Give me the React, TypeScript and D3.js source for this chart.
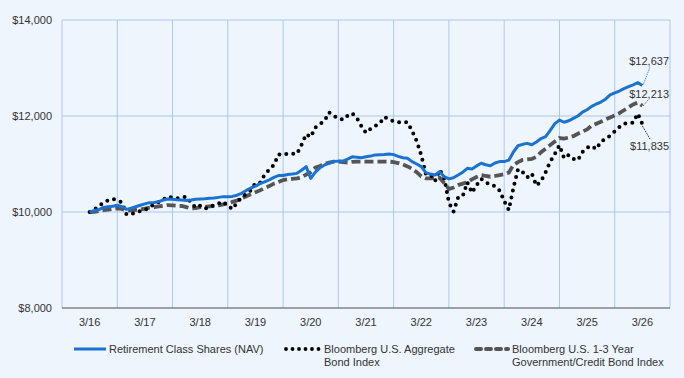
import React from "react";
import * as d3 from "d3";

const tickLabels = ["3/16", "3/17", "3/18", "3/19", "3/20", "3/21", "3/22", "3/23", "3/24", "3/25", "3/26"];
const yTicks = [8000, 10000, 12000, 14000];

const navSeries = [
  10000, 10030, 10050, 10095, 10110, 10120, 10140, 10110, 10055, 10080, 10110, 10140,
  10170, 10195, 10200, 10215, 10250, 10270, 10265, 10255, 10250, 10240, 10250, 10265,
  10270, 10275, 10285, 10290, 10305, 10320, 10320, 10325, 10350, 10390, 10450, 10500,
  10540, 10590, 10630, 10670, 10720, 10760, 10760, 10780, 10790, 10805, 10870, 10945,
  10700, 10830, 10920, 10980, 11015, 11050, 11060, 11060, 11100, 11150, 11140, 11130,
  11150, 11165, 11190, 11195, 11200, 11210, 11195, 11160, 11130, 11120, 11050, 11000,
  10945, 10820, 10790, 10770, 10840, 10735, 10690, 10715, 10770, 10830, 10910, 10895,
  10960, 11015, 10985, 10965, 11020, 11050, 11050, 11080, 11250, 11380, 11410, 11430,
  11400, 11460, 11530, 11570, 11700, 11840, 11915, 11870, 11900, 11950, 12000, 12080,
  12130, 12200, 12250, 12290, 12350, 12440, 12480, 12520, 12570, 12610, 12650, 12695,
  12637,
];

const aggSeries = [
  10000, 10050, 10120, 10195, 10240, 10270, 10250, 10200, 9950, 9960, 9985, 10020,
  10040, 10100, 10160, 10210, 10260, 10320, 10300, 10285, 10300, 10320, 10200, 10090,
  10130, 10070, 10100, 10140, 10180, 10215, 10130, 10060, 10200, 10300, 10380, 10450,
  10600, 10610, 10780, 10880, 10980, 11200, 11190, 11215, 11215, 11210, 11400, 11620,
  11560, 11760, 11830, 11900, 12075, 12000, 11960, 11920, 12005, 12055, 11960, 11790,
  11650, 11730, 11790, 11850, 11980, 11930, 11890, 11870, 11870, 11870, 11690, 11480,
  11180, 10790, 10780, 10645, 10880, 10700, 10200, 10010, 10300, 10330, 10620, 10400,
  10560, 10690, 10620, 10560, 10540, 10450, 10230, 10040, 10500, 10890, 10830, 10720,
  10800, 10550, 10645, 10830, 11050, 11210, 11390, 11120, 11190, 11110, 11080, 11250,
  11340, 11375, 11310, 11470, 11520, 11590, 11680, 11770, 11840, 11850, 11860, 12050,
  11835,
];

const govSeries = [
  10000, 10005, 10020, 10040, 10050, 10065, 10075, 10065, 10030, 10035, 10045, 10055,
  10070, 10090, 10100, 10115, 10130, 10145, 10140, 10130, 10125, 10100, 10075, 10080,
  10100, 10105, 10115, 10125, 10140, 10160, 10180, 10210, 10240, 10285, 10330, 10370,
  10410, 10450, 10500, 10540, 10590, 10625, 10665, 10680, 10690, 10700, 10720, 10780,
  10830, 10925, 10960, 11000, 11030, 11050, 11050, 11040, 11030, 11045, 11050, 11050,
  11050, 11050, 11050, 11050, 11050, 11050, 11040, 11020, 10990, 10950, 10900, 10830,
  10740, 10700, 10700, 10710, 10715, 10600, 10480, 10510, 10560, 10590, 10620, 10680,
  10730, 10770, 10750, 10735, 10750, 10770, 10785, 10820, 10980, 11040, 11085, 11095,
  11105, 11150, 11245, 11320, 11395, 11470, 11540, 11530, 11550, 11580, 11630, 11675,
  11720, 11800, 11840, 11880, 11930, 11970, 12010, 12060, 12120, 12180, 12240, 12280,
  12213,
];

const seriesNames = [
  "Retirement Class Shares (NAV)",
  "Bloomberg U.S. Aggregate",
  "Bond Index",
  "Bloomberg U.S. 1-3 Year",
  "Government/Credit Bond Index",
];

const W = 684;
const H = 378;
const FONT = "'Liberation Sans', Arial, sans-serif";
const BG = "#eef5fc";
const GRID = "#a9c8ef";
const BLUE = "#1a73d2";
const GRAY = "#555555";
const TEXT = "#333333";

export default function App() {
  const x = d3.scaleLinear().domain([-6, 126]).range([62, 670]);
  const y = d3.scaleLinear().domain([8000, 14000]).range([308, 20]);
  const line = d3
    .line<number>()
    .x((_, i) => x(i))
    .y((d) => y(d));

  const vGrid = d3.range(6, 126, 12);
  const fmt = (v: number) => "$" + d3.format(",")(v);
  const last = navSeries.length - 1;

  return (
    <div style={{ position: "fixed", left: 0, top: 0, width: W, height: H, background: BG }}>
      <svg width={W} height={H} style={{ display: "block" }} fontFamily={FONT}>
        <rect x={0} y={0} width={W} height={H} fill={BG} />
        {yTicks.slice(1).map((t) => (
          <line key={t} x1={x(-6)} x2={x(126)} y1={y(t)} y2={y(t)} stroke={GRID} strokeWidth={1} />
        ))}
        {[-6, ...vGrid, 126].map((m) => (
          <line key={m} x1={x(m)} x2={x(m)} y1={y(14000)} y2={y(8000)} stroke={GRID} strokeWidth={1} />
        ))}
        <line x1={x(-6)} x2={x(126)} y1={y(8000)} y2={y(8000)} stroke="#4d4d4d" strokeWidth={1} />
        {yTicks.map((t) => (
          <text key={t} x={52} y={y(t)} dy="0.35em" textAnchor="end" fontSize={11} fill={TEXT}>
            {fmt(t)}
          </text>
        ))}
        {tickLabels.map((l, k) => (
          <text key={l} x={x(k * 12)} y={326} textAnchor="middle" fontSize={11} fill={TEXT}>
            {l}
          </text>
        ))}
        <path d={line(govSeries) || ""} fill="none" stroke={GRAY} strokeWidth={3.8} strokeDasharray="9,4" />
        <path
          d={line(aggSeries) || ""}
          fill="none"
          stroke="#000"
          strokeWidth={4}
          strokeLinecap="round"
          strokeDasharray="0,7"
        />
        <path d={line(navSeries) || ""} fill="none" stroke={BLUE} strokeWidth={3} strokeLinejoin="round" />
        <line x1={x(last) + 1} y1={y(navSeries[last]) - 1} x2={650} y2={67} stroke={BLUE} strokeWidth={1} strokeDasharray="1,1" />
        <text x={669} y={65} textAnchor="end" fontSize={11} fill={TEXT}>{fmt(navSeries[last])}</text>
        <line x1={x(last) + 1} y1={y(govSeries[last])} x2={648} y2={100} stroke={GRAY} strokeWidth={1} strokeDasharray="1,1" />
        <text x={669} y={98} textAnchor="end" fontSize={11} fill={TEXT}>{fmt(govSeries[last])}</text>
        <line x1={x(last)} y1={y(aggSeries[last]) + 2} x2={650} y2={139} stroke="#000" strokeWidth={1} strokeDasharray="1,1" />
        <text x={669} y={150} textAnchor="end" fontSize={11} fill={TEXT}>{fmt(aggSeries[last])}</text>
        <line x1={74} x2={106} y1={349} y2={349} stroke={BLUE} strokeWidth={3} />
        <text x={109} y={353} fontSize={11} fill={TEXT}>{seriesNames[0]}</text>
        <line x1={286} x2={322} y1={349} y2={349} stroke="#000" strokeWidth={3.8} strokeLinecap="round" strokeDasharray="0,6.5" />
        <text x={324} y={353} fontSize={11} fill={TEXT}>{seriesNames[1]}</text>
        <text x={324} y={366} fontSize={11} fill={TEXT}>{seriesNames[2]}</text>
        <line x1={476} x2={508} y1={349} y2={349} stroke={GRAY} strokeWidth={4} strokeLinecap="round" strokeDasharray="5,5" />
        <text x={512} y={353} fontSize={11} fill={TEXT}>{seriesNames[3]}</text>
        <text x={512} y={366} fontSize={11} fill={TEXT}>{seriesNames[4]}</text>
      </svg>
    </div>
  );
}
